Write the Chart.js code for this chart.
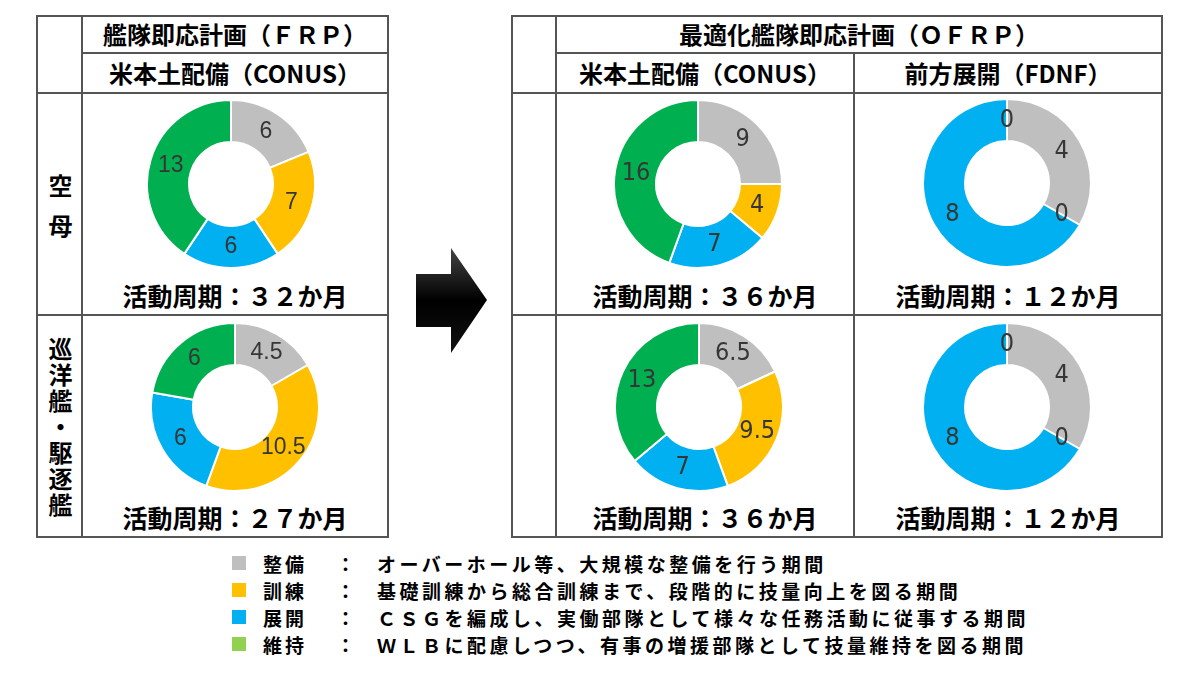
<!DOCTYPE html>
<html>
<head>
<meta charset="utf-8">
<script src="https://cdn.jsdelivr.net/npm/chart.js@4.4.1/dist/chart.umd.min.js"></script>
<style>
  html, body { margin: 0; padding: 0; background: #fff; }
  body { width: 1200px; height: 675px; position: relative; overflow: hidden;
         font-family: "Noto Sans CJK JP", "Noto Sans", sans-serif; color: #000; }
  .ln { position: absolute; background: #555; }
  .txt { position: absolute; text-align: center; font-weight: bold; font-size: 24px; white-space: nowrap; }
  .txt.cyc { font-size: 25px; }
  .vert { position: absolute; writing-mode: vertical-rl; text-orientation: upright;
          font-weight: bold; font-size: 24px; }
  .pie { position: absolute; width: 170px; height: 170px; }
  .legend { position: absolute; left: 232px; font-size: 19px; font-weight: bold; white-space: nowrap; }
  .legend div { height: 27px; line-height: 27px; position: relative; }
  .legend .sw { position: absolute; left: 0; top: 6px; width: 14px; height: 14px; }
  .legend .nm { position: absolute; left: 31px; letter-spacing: 3px; }
  .legend .co { position: absolute; left: 104px; }
  .legend .ds { position: absolute; left: 145px; letter-spacing: 3.5px; }
</style>
</head>
<body>
<svg width="1200" height="675" style="position:absolute;left:0;top:0">
  <defs>
    <linearGradient id="ag" x1="0" y1="0" x2="0" y2="1">
      <stop offset="0" stop-color="#444"/>
      <stop offset="0.5" stop-color="#000"/>
      <stop offset="1" stop-color="#111"/>
    </linearGradient>
  </defs>
  <polygon points="416,274 451,274 451,248 487,300 451,353 451,327 416,327" fill="url(#ag)"/>
</svg>

<div class="pie" style="left:146px;top:99px"><canvas id="c1"></canvas></div>
<div class="pie" style="left:150px;top:322px"><canvas id="c2"></canvas></div>
<div class="pie" style="left:613px;top:99px"><canvas id="c3"></canvas></div>
<div class="pie" style="left:614px;top:322px"><canvas id="c4"></canvas></div>
<div class="pie" style="left:922px;top:98px"><canvas id="c5"></canvas></div>
<div class="pie" style="left:922px;top:322px"><canvas id="c6"></canvas></div>

<div id="texts"></div>

<div class="legend" style="top:550px" id="legend"></div>

<script>
const categories = ["整備", "訓練", "展開", "維持"];
const descriptions = [
  "オーバーホール等、大規模な整備を行う期間",
  "基礎訓練から総合訓練まで、段階的に技量向上を図る期間",
  "ＣＳＧを編成し、実働部隊として様々な任務活動に従事する期間",
  "ＷＬＢに配慮しつつ、有事の増援部隊として技量維持を図る期間",
];
const frpCarrier = [6, 7, 6, 13];
const frpCruiser = [4.5, 10.5, 6, 6];
const ofrpConusCarrier = [9, 4, 7, 16];
const ofrpConusCruiser = [6.5, 9.5, 7, 13];
const fdnfCarrier = [4, 0, 8, 0];
const fdnfCruiser = [4, 0, 8, 0];
const sliceColors = ["#BFBFBF", "#FFC000", "#00B0F0", "#00B050"];
const legendColors = ["#BFBFBF", "#FFC000", "#00B0F0", "#92D050"];

// table lines: [x, y, w, h]
const lines = [
  [37, 15, 352, 2], [82, 52, 307, 2], [37, 92, 352, 2], [37, 314, 352, 2], [37, 536, 352, 2],
  [36, 15, 2, 523], [81, 15, 2, 523], [387, 15, 2, 523],
  [512, 15, 651, 2], [556, 52, 607, 2], [512, 92, 651, 2], [512, 314, 651, 2], [512, 536, 651, 2],
  [511, 15, 2, 523], [555, 15, 2, 523], [853, 52, 2, 486], [1161, 15, 2, 523],
];
// [text, centre x, centre y, extra class]
const texts = [
  ["艦隊即応計画（ＦＲＰ）", 235, 34, ""],
  ["米本土配備（CONUS）", 235, 73, ""],
  ["最適化艦隊即応計画（ＯＦＲＰ）", 859, 34, ""],
  ["米本土配備（CONUS）", 705, 73, ""],
  ["前方展開（FDNF）", 1008, 73, ""],
  ["活動周期：３２か月", 235, 295, "cyc"],
  ["活動周期：２７か月", 235, 517, "cyc"],
  ["活動周期：３６か月", 705, 295, "cyc"],
  ["活動周期：３６か月", 705, 517, "cyc"],
  ["活動周期：１２か月", 1008, 295, "cyc"],
  ["活動周期：１２か月", 1008, 517, "cyc"],
];

const holder = document.getElementById("texts");
lines.forEach(([x, y, w, h]) => {
  const d = document.createElement("div");
  d.className = "ln";
  d.style.cssText = `left:${x}px;top:${y}px;width:${w}px;height:${h}px`;
  holder.appendChild(d);
});
texts.forEach(([t, cx, cy, cls]) => {
  const d = document.createElement("div");
  d.className = "txt " + cls;
  d.textContent = t;
  d.style.cssText = `left:${cx - 200}px;width:400px;top:${cy - 17}px;line-height:34px`;
  holder.appendChild(d);
});
[["空母", 174, 16], ["巡洋艦・駆逐艦", 337, 2]].forEach(([t, y, sp]) => {
  const d = document.createElement("div");
  d.className = "vert";
  d.textContent = t;
  d.style.cssText = `left:44px;top:${y}px;letter-spacing:${sp}px;line-height:32px`;
  holder.appendChild(d);
});

const legend = document.getElementById("legend");
categories.forEach((c, i) => {
  const row = document.createElement("div");
  row.innerHTML = `<span class="sw" style="background:${legendColors[i]}"></span>` +
    `<span class="nm">${c}</span><span class="co">：</span><span class="ds">${descriptions[i]}</span>`;
  legend.appendChild(row);
});

const sliceLabels = {
  id: "sliceLabels",
  afterDatasetsDraw(chart, args, opts) {
    const ctx = chart.ctx;
    const meta = chart.getDatasetMeta(0);
    const values = chart.data.datasets[0].data;
    ctx.save();
    ctx.fillStyle = "#363636";
    ctx.font = opts.font;
    ctx.textAlign = "center";
    ctx.textBaseline = "middle";
    meta.data.forEach((arc, i) => {
      const p = arc.tooltipPosition();
      ctx.fillText(String(values[i]), p.x, p.y);
    });
    ctx.restore();
  },
};

function renderDonut(id, values, font) {
  return new Chart(document.getElementById(id), {
    type: "doughnut",
    data: {
      labels: categories,
      datasets: [
        {
          data: values,
          backgroundColor: sliceColors,
          borderColor: "#ffffff",
          borderWidth: 2,
        },
      ],
    },
    options: {
      responsive: true,
      maintainAspectRatio: false,
      animation: false,
      cutout: "50%",
      plugins: {
        legend: { display: false },
        tooltip: { enabled: false },
        sliceLabels: { font: font },
      },
    },
    plugins: [sliceLabels],
  });
}

const wideFont = "23px 'Liberation Sans', Arial, sans-serif";
const narrowFont = "25px 'Liberation Sans Narrow', 'DejaVu Sans Condensed', sans-serif";
renderDonut("c1", frpCarrier, wideFont);
renderDonut("c2", frpCruiser, wideFont);
renderDonut("c3", ofrpConusCarrier, narrowFont);
renderDonut("c4", ofrpConusCruiser, narrowFont);
renderDonut("c5", fdnfCarrier, narrowFont);
renderDonut("c6", fdnfCruiser, narrowFont);
</script>
</body>
</html>
